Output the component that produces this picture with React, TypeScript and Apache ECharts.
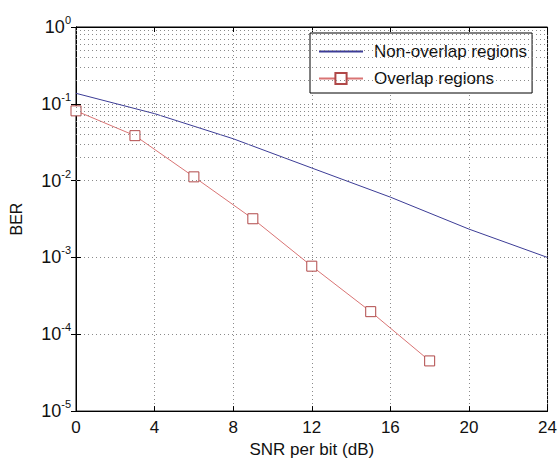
import React, { useEffect, useRef } from "react";
import * as echarts from "echarts";

const snrBlue = [0, 4, 8, 12, 16, 20, 24];
const berNonOverlap = [0.137, 0.0745, 0.0351, 0.0146, 0.0061, 0.00234, 0.001];
const snrRed = [0, 3, 6, 9, 12, 15, 18];
const berOverlap = [0.081, 0.0385, 0.0112, 0.00319, 0.00077, 0.000197, 0.000045];
const decades = [-5, -4, -3, -2, -1];
const minorMultipliers = [2, 3, 4, 5, 6, 7, 8, 9];

const FONT = "Liberation Sans";

export default function App() {
  const ref = useRef<HTMLDivElement>(null);
  useEffect(() => {
    if (!ref.current) return;
    const chart = echarts.init(ref.current, undefined, { renderer: "svg" });
    const minorLines: any[] = [];
    decades.forEach((d) =>
      minorMultipliers.forEach((m) => minorLines.push({ yAxis: m * Math.pow(10, d) }))
    );
    const gridDot = { color: "#8a8a8a", type: [1, 3] as any, width: 1 };
    const labelFmt = (v: number) => {
      const e = Math.round(Math.log10(v));
      return `{b|10}{s|${e}}`;
    };
    chart.setOption({
      animation: false,
      backgroundColor: "#fff",
      grid: {
        left: 73,
        right: 12,
        top: 27,
        bottom: 46,
        show: true,
        borderColor: "#000",
        borderWidth: 1,
        backgroundColor: "#fff",
      },
      legend: {
        left: 310,
        top: 33,
        orient: "vertical",
        backgroundColor: "#fff",
        borderColor: "#000",
        borderWidth: 1,
        borderRadius: 0,
        padding: [10, 5, 6, 8],
        itemWidth: 44,
        itemHeight: 14,
        itemGap: 10,
        textStyle: { fontFamily: FONT, fontSize: 17, color: "#111", padding: [0, 0, 0, 6] },
        data: [
          { name: "Non-overlap regions", itemStyle: { opacity: 0 } },
          { name: "Overlap regions" },
        ],
      },
      xAxis: [
        {
          type: "value",
          min: 0,
          max: 24,
          interval: 4,
          name: "SNR per bit (dB)",
          nameLocation: "middle",
          nameGap: 27,
          nameTextStyle: { fontFamily: FONT, fontSize: 17, color: "#111" },
          axisLine: { show: true, lineStyle: { color: "#000" } },
          axisTick: { inside: true, length: 5, lineStyle: { color: "#000" } },
          axisLabel: { fontFamily: FONT, fontSize: 17, color: "#111", margin: 8 },
          splitLine: { show: true, lineStyle: gridDot },
        },
        {
          type: "value",
          position: "top",
          min: 0,
          max: 24,
          interval: 4,
          axisLine: { show: true, lineStyle: { color: "#000" } },
          axisTick: { inside: true, length: 5, lineStyle: { color: "#000" } },
          axisLabel: { show: false },
          splitLine: { show: false },
        },
      ],
      yAxis: [
        {
          type: "log",
          logBase: 10,
          min: 1e-5,
          max: 1,
          name: "BER",
          nameLocation: "middle",
          nameGap: 52,
          nameTextStyle: { fontFamily: FONT, fontSize: 16, color: "#111" },
          axisLine: { show: true, lineStyle: { color: "#000" } },
          axisTick: { inside: true, length: 5, lineStyle: { color: "#000" } },
          axisLabel: {
            fontFamily: FONT,
            color: "#111",
            margin: 5,
            formatter: labelFmt,
            rich: {
              b: { fontFamily: FONT, fontSize: 18, color: "#111" },
              s: { fontFamily: FONT, fontSize: 11, color: "#111", padding: [0, 0, 14, 0] },
            },
          },
          splitLine: { show: true, lineStyle: gridDot },
        },
        {
          type: "log",
          logBase: 10,
          min: 1e-5,
          max: 1,
          position: "right",
          axisLine: { show: true, lineStyle: { color: "#000" } },
          axisTick: { inside: true, length: 5, lineStyle: { color: "#000" } },
          axisLabel: { show: false },
          splitLine: { show: false },
        },
      ],
      series: [
        {
          name: "Non-overlap regions",
          type: "line",
          data: snrBlue.map((x, i) => [x, berNonOverlap[i]]),
          symbol: "none",
          lineStyle: { color: "#3c3c96", width: 1 },
          itemStyle: { color: "#3c3c96" },
          markLine: {
            silent: true,
            symbol: "none",
            label: { show: false },
            lineStyle: { ...gridDot },
            data: minorLines,
          },
          z: 3,
        },
        {
          name: "Overlap regions",
          type: "line",
          data: snrRed.map((x, i) => [x, berOverlap[i]]),
          symbol: "rect",
          symbolSize: 10,
          lineStyle: { color: "#d97474", width: 1 },
          itemStyle: { color: "#fff", borderColor: "#b04848", borderWidth: 1 },
          z: 4,
        },
      ],
    });
    return () => chart.dispose();
  }, []);
  return (
    <div
      ref={ref}
      style={{ position: "fixed", left: 0, top: 0, width: 560, height: 463, background: "#fff" }}
    />
  );
}
